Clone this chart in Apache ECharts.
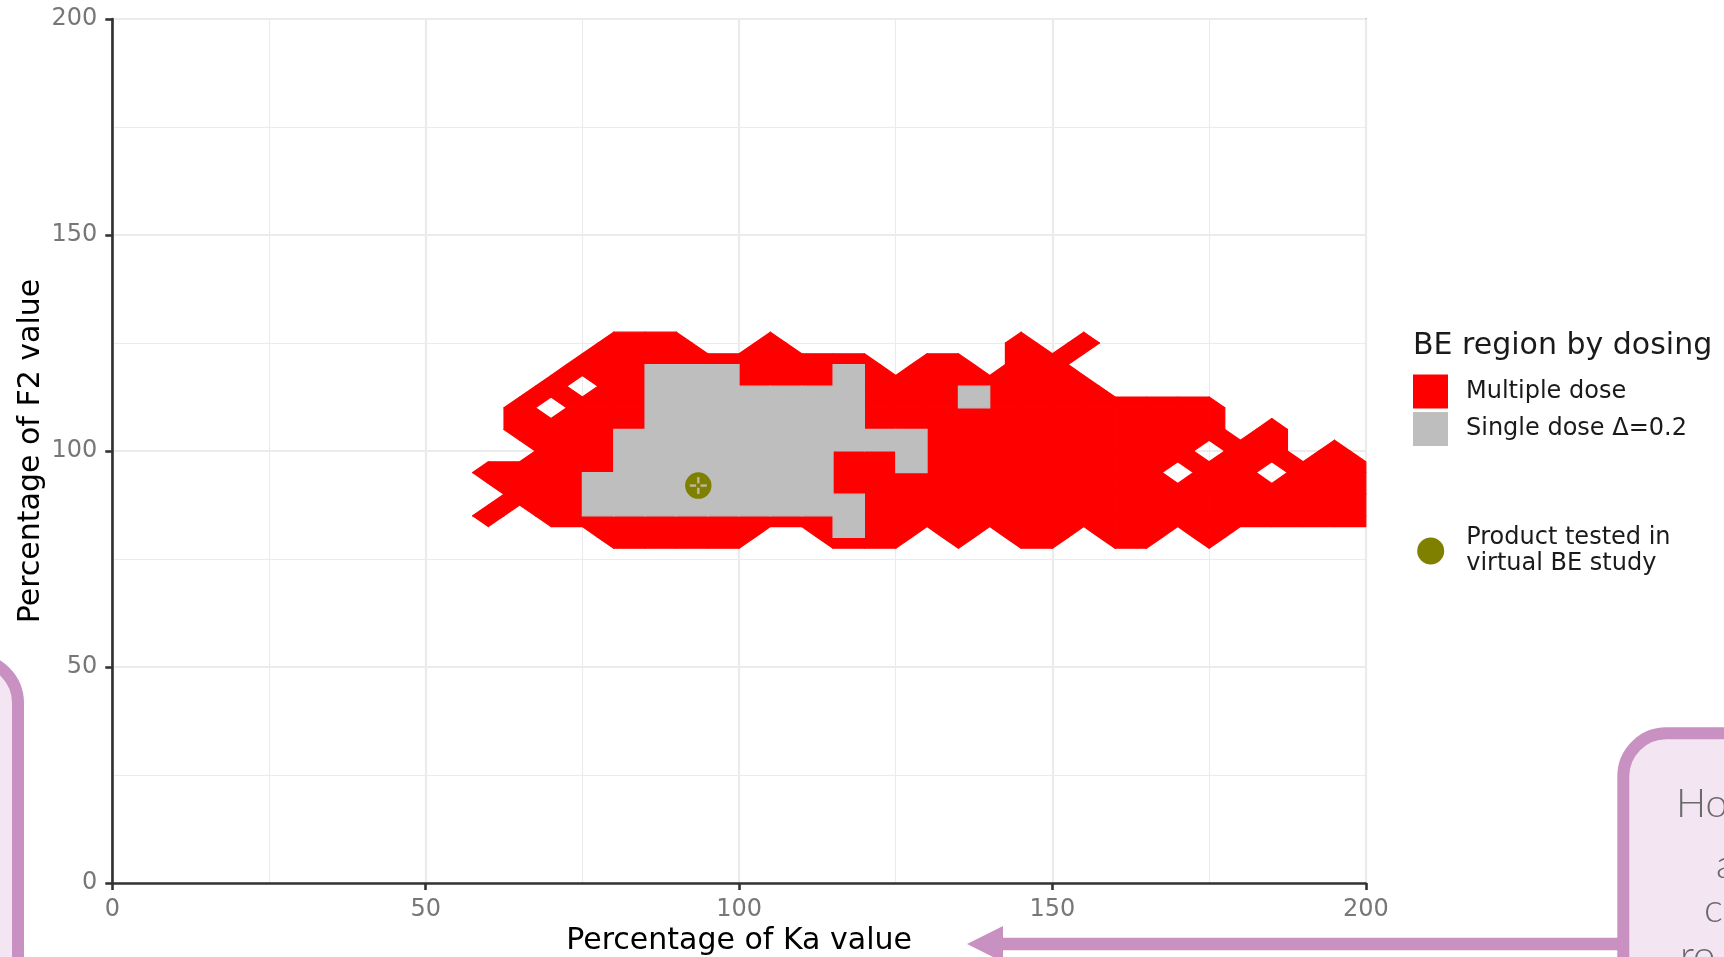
<!DOCTYPE html>
<html>
<head>
<meta charset="utf-8">
<script src="https://cdn.jsdelivr.net/npm/echarts@6/dist/echarts.min.js"></script>
<style>
html,body{margin:0;padding:0;background:#ffffff;}
#chart{width:1724px;height:957px;}
</style>
</head>
<body>
<div id="chart"></div>
<script>
// ---------------- data ----------------
const xTicks = [0, 50, 100, 150, 200];
const yTicks = [0, 50, 100, 150, 200];
const gridStep = 5; // simulation grid spacing (%)

// Multiple dose: BE outcome on the 5 % grid. For each F2 row, runs [from, to] of Ka % that are bioequivalent.
const f2Rows = [80, 85, 90, 95, 100, 105, 110, 115, 120, 125];
const multipleDoseRuns = [
  [[80,100],[115,125],[135,135],[145,150],[160,165],[175,175]],
  [[60,60],[70,200]],
  [[65,200]],
  [[60,165],[175,180],[190,200]],
  [[70,170],[180,185],[195,195]],
  [[65,175],[185,185]],
  [[65,65],[75,175]],
  [[70,70],[80,155]],
  [[75,120],[130,135],[145,150]],
  [[80,90],[105,105],[145,145],[155,155]]
];
const kaGridMin = 55, kaGridMax = 200, f2GridMin = 75, f2GridMax = 130;

// Single dose (Δ=0.2) BE tiles: Ka column start, F2 low, F2 high
const singleKaStart = [75, 80, 85, 90, 95, 100, 105, 110, 115, 115, 120, 125, 135];
const singleF2Low   = [85, 85, 85, 85, 85, 85,  85,  85,  80,  100, 100, 95,  110];
const singleF2High  = [95, 105,120,120,120,115, 115, 115, 90,  120, 105, 105, 115];

// Product tested in virtual BE study
const productKa = [93.5];
const productF2 = [92];

const seriesNames = ['Multiple dose', 'Single dose Δ=0.2', 'Product tested in\nvirtual BE study'];

// ---------------- helpers ----------------
function isBE(u, v) {
  const i = f2Rows.indexOf(v);
  if (i < 0) return false;
  return multipleDoseRuns[i].some(r => u >= r[0] && u <= r[1]);
}
const beCells = [];
for (let v = f2GridMin; v < f2GridMax; v += gridStep) {
  for (let u = kaGridMin; u < kaGridMax; u += gridStep) {
    if (isBE(u, v) || isBE(u + gridStep, v) || isBE(u, v + gridStep) || isBE(u + gridStep, v + gridStep)) {
      beCells.push([u, v]);
    }
  }
}
const singleData = singleKaStart.map((k, i) => [k, singleF2Low[i], singleF2High[i]]);
const productData = productKa.map((k, i) => [k, productF2[i]]);

const FONT = "'DejaVu Sans', sans-serif";
const RED = '#ff0000', GREY = '#bebebe', OLIVE = '#808000', PURPLE = '#c990c2', PINK = '#f3e6f2';

function renderBE(params, api) {
  const u0 = api.value(0), v0 = api.value(1), s = gridStep;
  const c = [[u0, v0], [u0 + s, v0], [u0 + s, v0 + s], [u0, v0 + s]];
  const pts = [];
  for (let k = 0; k < 4; k++) {
    const a = c[k], b = c[(k + 1) % 4];
    const ta = isBE(a[0], a[1]), tb = isBE(b[0], b[1]);
    if (ta) pts.push(a);
    if (ta !== tb) pts.push([(a[0] + b[0]) / 2, (a[1] + b[1]) / 2]);
  }
  return {
    type: 'polygon',
    shape: { points: pts.map(p => api.coord(p)) },
    style: { fill: RED, stroke: RED, lineWidth: 1.2, lineJoin: 'round' }
  };
}
function renderSingle(params, api) {
  const p0 = api.coord([api.value(0), api.value(2)]);
  const p1 = api.coord([api.value(0) + gridStep, api.value(1)]);
  return {
    type: 'rect',
    shape: { x: p0[0], y: p0[1], width: p1[0] - p0[0], height: p1[1] - p0[1] },
    style: { fill: GREY, stroke: GREY, lineWidth: 1.2 }
  };
}
function crossShape(cx, cy, color) {
  const g = 2.2, L = 8.5;
  return [
    { type: 'line', shape: { x1: cx - L, y1: cy, x2: cx - g, y2: cy }, style: { stroke: color, lineWidth: 2.4 } },
    { type: 'line', shape: { x1: cx + g, y1: cy, x2: cx + L, y2: cy }, style: { stroke: color, lineWidth: 2.4 } },
    { type: 'line', shape: { x1: cx, y1: cy - L, x2: cx, y2: cy - g }, style: { stroke: color, lineWidth: 2.4 } },
    { type: 'line', shape: { x1: cx, y1: cy + g, x2: cx, y2: cy + L }, style: { stroke: color, lineWidth: 2.4 } }
  ];
}
function renderProduct(params, api) {
  const p = api.coord([api.value(0), api.value(1)]);
  return {
    type: 'group',
    children: [{ type: 'circle', shape: { cx: p[0], cy: p[1], r: 13.2 }, style: { fill: OLIVE } }]
      .concat(crossShape(p[0], p[1], '#b9b9a4'))
  };
}

// ---------------- chart ----------------
const chart = echarts.init(document.getElementById('chart'), null, { renderer: 'canvas' });
const axisCommon = {
  type: 'value', min: 0, max: 200, interval: 50,
  nameLocation: 'middle',
  nameTextStyle: { fontFamily: FONT, fontSize: 30, color: '#000000' },
  axisLine: { show: true, onZero: false, lineStyle: { color: '#333333', width: 2.6 } },
  axisTick: { show: true, inside: false, length: 7, lineStyle: { color: '#333333', width: 2.6 } },
  axisLabel: { fontFamily: FONT, fontSize: 24, color: '#777777' },
  splitLine: { show: true, lineStyle: { color: '#ebebeb', width: 2.2 } },
  minorTick: { show: false, splitNumber: 2 },
  minorSplitLine: { show: true, lineStyle: { color: '#ebebeb', width: 1.1 } }
};

const option = {
  animation: false,
  backgroundColor: '#ffffff',
  grid: {
    left: 112.3, top: 19, width: 1253.5, height: 864,
    containLabel: false, outerBoundsMode: 'none',
    show: true, borderColor: '#555555', borderWidth: 1.6, backgroundColor: 'transparent'
  },
  xAxis: Object.assign({}, axisCommon, {
    name: 'Percentage of Ka value', nameGap: 41,
    axisLabel: Object.assign({}, axisCommon.axisLabel, { margin: 14.5, formatter: v => xTicks.includes(v) ? String(v) : '' })
  }),
  yAxis: Object.assign({}, axisCommon, {
    name: 'Percentage of F2 value', nameGap: 66, nameMoveOverlap: false,
    axisLabel: Object.assign({}, axisCommon.axisLabel, { margin: 15, formatter: v => yTicks.includes(v) ? String(v) : '' })
  }),
  legend: [
    {
      data: [
        { name: seriesNames[0], icon: 'rect', itemStyle: { color: RED } },
        { name: seriesNames[1], icon: 'rect', itemStyle: { color: GREY } }
      ],
      orient: 'vertical', left: 1413, top: 374.5, padding: 0,
      itemWidth: 35, itemHeight: 34, itemGap: 3.5, selectedMode: false,
      textStyle: { fontFamily: FONT, fontSize: 24, color: '#1a1a1a', padding: [0, 0, 0, 13] }
    },
    {
      data: [{ name: seriesNames[2], icon: 'circle', itemStyle: { color: OLIVE } }],
      orient: 'vertical', left: 1417.2, top: 519, padding: 0,
      itemWidth: 27, itemHeight: 27, selectedMode: false,
      textStyle: { fontFamily: FONT, fontSize: 24, color: '#1a1a1a', lineHeight: 26, padding: [12, 0, 0, 17] }
    }
  ],
  graphic: [
    { type: 'text', left: 1413, top: 331.5, style: { text: 'BE region by dosing', font: '30px ' + FONT, fill: '#1a1a1a' }, z: 100 },
    { type: 'group', z: 100, children: crossShape(1430.7, 551.5, '#e8e8dc') },
    // slide decorations
    { type: 'rect', z: -10, shape: { x: -300, y: 659, width: 318, height: 600, r: 44 }, style: { fill: PINK, stroke: PURPLE, lineWidth: 12 } },
    { type: 'line', z: -10, shape: { x1: 1000, y1: 944, x2: 1625, y2: 944 }, style: { stroke: PURPLE, lineWidth: 12.4 } },
    { type: 'polygon', z: -10, shape: { points: [[967, 944], [1003, 926], [1003, 962]] }, style: { fill: PURPLE } },
    { type: 'rect', z: -10, shape: { x: 1623.3, y: 733.3, width: 400, height: 400, r: 43 }, style: { fill: PINK, stroke: PURPLE, lineWidth: 12 } },
    { type: 'text', z: -5, x: 1676, y: 784, style: { text: 'Ho', font: '300 40px Lato, sans-serif', fill: '#6a6a6a' } },
    { type: 'text', z: -5, x: 1716, y: 845, style: { text: 'a', font: '300 40px Lato, sans-serif', fill: '#6a6a6a' } },
    { type: 'text', z: -5, x: 1704, y: 889, style: { text: 'c', font: '300 40px Lato, sans-serif', fill: '#6a6a6a' } },
    { type: 'text', z: -5, x: 1680, y: 936, style: { text: 'ro', font: '300 40px Lato, sans-serif', fill: '#6a6a6a' } }
  ],
  series: [
    { name: seriesNames[0], type: 'custom', coordinateSystem: 'cartesian2d', renderItem: renderBE, data: beCells, encode: { x: 0, y: 1 }, clip: true, z: 2 },
    { name: seriesNames[1], type: 'custom', coordinateSystem: 'cartesian2d', renderItem: renderSingle, data: singleData, encode: { x: 0, y: [1, 2] }, clip: true, z: 3 },
    { name: seriesNames[2], type: 'custom', coordinateSystem: 'cartesian2d', renderItem: renderProduct, data: productData, encode: { x: 0, y: 1 }, z: 4 }
  ]
};
chart.setOption(option);
</script>
</body>
</html>
